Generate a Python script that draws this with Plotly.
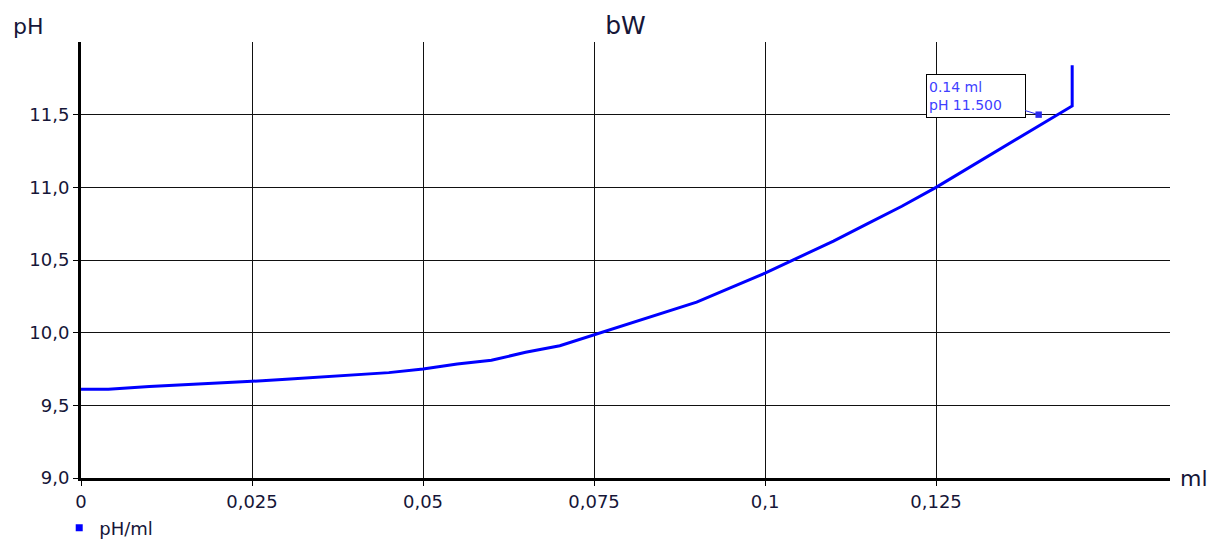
import plotly.graph_objects as go

# Data
volume_ml = [0.0, 0.004, 0.01, 0.015, 0.02, 0.025, 0.03, 0.035, 0.04, 0.045, 0.05,
             0.055, 0.06, 0.065, 0.07, 0.075, 0.08, 0.085, 0.09, 0.095, 0.1,
             0.105, 0.11, 0.115, 0.12, 0.125, 0.13, 0.135, 0.14, 0.1449, 0.1449]
ph_values = [9.61, 9.61, 9.63, 9.64, 9.655, 9.665, 9.68, 9.695, 9.71, 9.725, 9.75,
             9.785, 9.81, 9.865, 9.91, 9.985, 10.06, 10.13, 10.21, 10.31, 10.41,
             10.52, 10.63, 10.75, 10.87, 11.0, 11.14, 11.28, 11.42, 11.56, 11.84]

x_tick_vals = [0, 0.025, 0.05, 0.075, 0.1, 0.125]
x_tick_text = ["0", "0,025", "0,05", "0,075", "0,1", "0,125"]
y_tick_vals = [9.0, 9.5, 10.0, 10.5, 11.0, 11.5]

marker_x = 0.14
marker_y = 11.5
marker_text = "0.14 ml<br>pH 11.500"

series_name = "pH/ml"
chart_title = "bW"

LINE_BLUE = "#0000ff"
TEXT_COLOR = "#161638"
ANN_BLUE = "#4040ff"
FONT = "DejaVu Sans"

fig = go.Figure()
fig.add_trace(go.Scatter(
    x=volume_ml, y=ph_values, mode="lines",
    line=dict(color=LINE_BLUE, width=3),
    showlegend=False, hoverinfo="skip",
))
# legend entry with square symbol
fig.add_trace(go.Scatter(
    x=[None], y=[None], mode="markers", name=series_name,
    marker=dict(symbol="square", size=7, color=LINE_BLUE),
    showlegend=True,
))

fig.update_layout(
    width=1218, height=540,
    margin=dict(l=81, r=48, t=42, b=62, autoexpand=False),
    paper_bgcolor="white", plot_bgcolor="white",
    separators=",.",
    font=dict(family=FONT, color=TEXT_COLOR, size=18),
    title=dict(text=chart_title, x=625.5 / 1218, xanchor="center", xref="container",
               y=1 - 25 / 540, yanchor="middle", yref="container",
               font=dict(family=FONT, size=25, color=TEXT_COLOR)),
    legend=dict(x=-0.02, xanchor="left", y=-0.115, yanchor="middle",
                font=dict(family=FONT, size=18, color=TEXT_COLOR),
                bgcolor="rgba(0,0,0,0)", itemwidth=30),
)

fig.update_xaxes(
    range=[0, 0.1592],
    tickvals=x_tick_vals, ticktext=x_tick_text,
    showgrid=True, gridcolor="#111111", gridwidth=1.3,
    showline=True, linecolor="black", linewidth=3,
    ticks="outside", ticklen=5, tickcolor="black", tickwidth=1,
    zeroline=False, automargin=False,
    tickfont=dict(family=FONT, size=18, color=TEXT_COLOR),
)
fig.update_yaxes(
    range=[9.0, 12.0],
    tickvals=y_tick_vals, tickformat=".1f",
    showgrid=True, gridcolor="#111111", gridwidth=1.3,
    showline=True, linecolor="black", linewidth=3,
    ticks="outside", ticklen=5, tickcolor="black", tickwidth=1,
    zeroline=False, automargin=False,
    tickfont=dict(family=FONT, size=18, color=TEXT_COLOR),
)

# axis unit labels
fig.add_annotation(text="pH", xref="paper", yref="paper",
                   x=(28 - 81) / 1089, y=(478 - 27) / 436,
                   xanchor="center", yanchor="middle", showarrow=False,
                   font=dict(family=FONT, size=22, color=TEXT_COLOR))
fig.add_annotation(text="ml", xref="paper", yref="paper",
                   x=(1194 - 81) / 1089, y=0.0,
                   xanchor="center", yanchor="middle", showarrow=False,
                   font=dict(family=FONT, size=22, color=TEXT_COLOR))

# marker callout
fig.add_annotation(
    x=marker_x, y=marker_y, xref="x", yref="y",
    text=marker_text, align="left",
    showarrow=True, ax=-63, ay=-19, axref="pixel", ayref="pixel",
    arrowhead=7, arrowsize=1.6, arrowwidth=1, arrowcolor="#2a2aee",
    font=dict(family=FONT, size=14, color=ANN_BLUE),
    bgcolor="white", bordercolor="black", borderwidth=1, borderpad=2,
    width=94, height=38,
)

fig.write_html("out.html",
               config={"displayModeBar": False},
               post_script="document.body.style.margin='0px';document.body.style.overflow='hidden';")
